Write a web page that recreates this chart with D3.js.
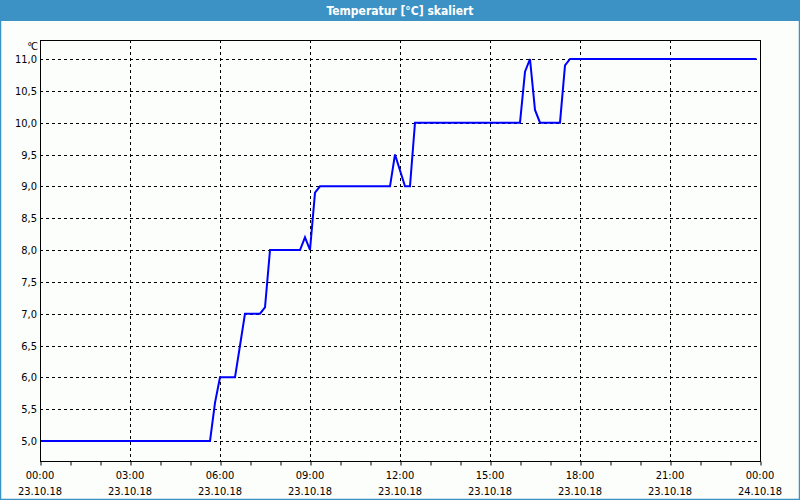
<!DOCTYPE html>
<html><head><meta charset="utf-8">
<script src="https://cdn.jsdelivr.net/npm/d3@7/dist/d3.min.js"></script>
<style>body{margin:0;background:#fff}svg{display:block}</style>
</head><body>
<svg id="c" width="800" height="500"></svg>
<script>
// data: time in hours since 23.10.18 00:00, temperature in °C
const timesH = [0, 5.667, 5.833, 6.0, 6.5, 6.667, 6.833, 7.333, 7.5, 7.667, 8.667, 8.833, 9.0, 9.167, 9.333, 11.667, 11.833, 12.167, 12.333, 12.5, 16.0, 16.167, 16.333, 16.5, 16.667, 17.333, 17.5, 17.667, 23.883];
const temps  = [5.0, 5.0, 5.6, 6.0, 6.0, 6.5, 7.0, 7.0, 7.1, 8.0, 8.0, 8.2, 8.0, 8.9, 9.0, 9.0, 9.5, 9.0, 9.0, 10.0, 10.0, 10.8, 11.0, 10.2, 10.0, 10.0, 10.9, 11.0, 11.0];
const yTicks = [5.0, 5.5, 6.0, 6.5, 7.0, 7.5, 8.0, 8.5, 9.0, 9.5, 10.0, 10.5, 11.0];
const xTickHours = [0, 3, 6, 9, 12, 15, 18, 21, 24];
const xTickTimes = ["00:00","03:00","06:00","09:00","12:00","15:00","18:00","21:00","00:00"];
const xTickDates = ["23.10.18","23.10.18","23.10.18","23.10.18","23.10.18","23.10.18","23.10.18","23.10.18","24.10.18"];
const title = "Temperatur [°C] skaliert";
const unit = "°C";

const svg = d3.select("#c");
const W = 800, H = 500;
const L = 40, R = 760, T = 40, B = 461;
const font = "'DejaVu Sans Condensed', 'DejaVu Sans', Verdana, sans-serif";

svg.append("rect").attr("width", W).attr("height", H).attr("fill", "#fbfefb");
// title bar
svg.append("rect").attr("x", 0).attr("y", 0).attr("width", W).attr("height", 21).attr("fill", "#3c92c5");
svg.append("text").attr("x", W/2).attr("y", 15).attr("text-anchor", "middle")
  .attr("fill", "#fff").attr("font-family", font).attr("font-weight", "bold").attr("font-size", 12).text(title);
// window border
svg.append("rect").attr("x", 0.5).attr("y", 0.5).attr("width", W-1).attr("height", H-1)
  .attr("fill", "none").attr("stroke", "#3c92c5").attr("stroke-width", 1.5);

const x = d3.scaleLinear().domain([0, 24]).range([L, R]);
const y = d3.scaleLinear().domain([5, 11]).range([441, 59]);

const g = svg.append("g");
// horizontal grid
g.selectAll(".hg").data(yTicks).join("line")
  .attr("x1", L).attr("x2", R).attr("y1", d => Math.round(y(d)) + 0.5).attr("y2", d => Math.round(y(d)) + 0.5)
  .attr("stroke", "#000").attr("stroke-dasharray", "3,3");
// vertical grid
g.selectAll(".vg").data(xTickHours.filter(h => h > 0 && h < 24)).join("line")
  .attr("x1", d => Math.round(x(d)) + 0.5).attr("x2", d => Math.round(x(d)) + 0.5).attr("y1", T).attr("y2", B)
  .attr("stroke", "#000").attr("stroke-dasharray", "3,3");

// line
const pts = timesH.map((t, i) => [t, temps[i]]);
g.append("path").datum(pts)
  .attr("d", d3.line().x(d => x(d[0])).y(d => y(d[1])))
  .attr("fill", "none").attr("stroke", "#0000ff").attr("stroke-width", 2);

// plot border
g.append("rect").attr("x", L + 0.5).attr("y", T + 0.5).attr("width", R - L).attr("height", B - T)
  .attr("fill", "none").attr("stroke", "#000");

// bottom axis ticks (hourly)
const xAxis = d3.axisBottom(x).tickValues(d3.range(0, 25)).tickSize(4).tickFormat("");
const ax = svg.append("g").attr("transform", `translate(0.5,${B + 0.5})`).call(xAxis);
ax.select(".domain").remove();
ax.selectAll("line").attr("stroke", "#000");

// x labels
const xl = svg.append("g").attr("font-family", font).attr("font-size", 11).attr("fill", "#000");
xl.selectAll(".t1").data(xTickHours).join("text")
  .attr("x", d => x(d)).attr("y", 479).attr("text-anchor", "middle").text((d, i) => xTickTimes[i]);
xl.selectAll(".t2").data(xTickHours).join("text")
  .attr("x", d => x(d)).attr("y", 495).attr("text-anchor", "middle").text((d, i) => xTickDates[i]);

// y labels
const yAxis = d3.axisLeft(y).tickValues(yTicks).tickSize(0).tickPadding(0)
  .tickFormat(d => d3.format(".1f")(d).replace(".", ","));
const ay = svg.append("g").attr("transform", `translate(37,0)`).call(yAxis);
ay.select(".domain").remove();
ay.selectAll("text").attr("font-family", font).attr("font-size", 11).attr("fill", "#000");

svg.append("text").attr("x", 37).attr("y", 50).attr("text-anchor", "end")
  .attr("font-family", font).attr("font-size", 11).attr("fill", "#000").attr("letter-spacing", -1).text(unit);
</script>
</body></html>
